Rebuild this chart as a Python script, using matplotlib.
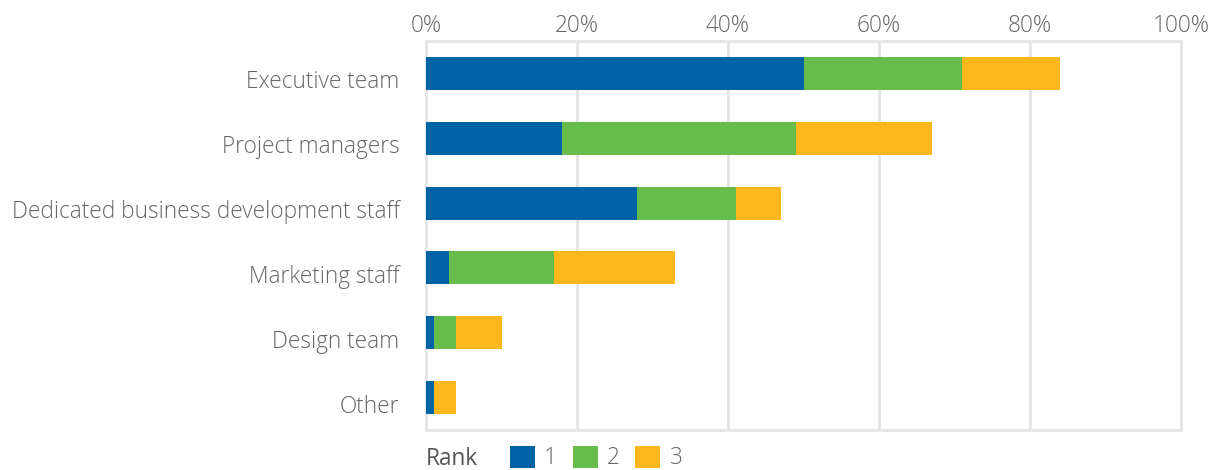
import matplotlib
matplotlib.use("Agg")
import matplotlib.pyplot as plt
from matplotlib.patches import Patch
import matplotlib.transforms as mtransforms

categories = ["Executive team", "Project managers", "Dedicated business development staff",
              "Marketing staff", "Design team", "Other"]
rank1 = [50, 18, 28, 3, 1, 1]
rank2 = [21, 31, 13, 14, 3, 0]
rank3 = [13, 18, 6, 16, 6, 3]
series_labels = ["1", "2", "3"]
xticks = [0, 20, 40, 60, 80, 100]
xticklabels = ["0%", "20%", "40%", "60%", "80%", "100%"]

colors = ["#0063a6", "#66bd4c", "#fbb71b"]
txt = "#666666"
grid = "#e6e6e6"

plt.rcParams['font.family'] = ['Open Sans', 'DejaVu Sans']
plt.rcParams['font.weight'] = 'light'
FS = 16.3

fig = plt.figure(figsize=(12.12, 4.70), dpi=100)
ax = fig.add_axes([426/1212, 40/470, 755/1212, 389/470])

y = list(range(len(categories)))
left = [0]*len(categories)
for vals, c, lab in zip([rank1, rank2, rank3], colors, series_labels):
    ax.barh(y, vals, left=left, height=0.51, color=c, label=lab, zorder=3)
    left = [l + v for l, v in zip(left, vals)]

ax.set_xlim(0, 100)
ax.set_ylim(5.5, -0.5)
ax.set_xticks(xticks)
ax.set_xticklabels(xticklabels)
ax.set_yticks(y)
ax.set_yticklabels(categories)
ax.xaxis.tick_top()
ax.tick_params(axis='x', length=0, pad=2, labelsize=FS, labelcolor=txt)
ax.tick_params(axis='y', length=0, pad=19, labelsize=FS, labelcolor=txt)
off = mtransforms.ScaledTranslation(0, -6/100, fig.dpi_scale_trans)
for lab in ax.get_yticklabels():
    lab.set_transform(lab.get_transform() + off)
ax.grid(axis='x', color=grid, linewidth=2.2, zorder=0)
for s in ax.spines.values():
    s.set_color(grid)
    s.set_linewidth(2.2)
    s.set_zorder(0)

fig.text(426/1212, 1 - 459/470, "Rank", fontsize=FS, color="#555555",
         ha='left', va='center', weight='normal')
handles = [Patch(facecolor=c, edgecolor='none') for c in colors]
leg = fig.legend(handles, series_labels, ncol=3, loc='center left',
                 bbox_to_anchor=(510/1212, 1 - 458/470), frameon=False,
                 fontsize=FS, handlelength=1.1, handleheight=1.15,
                 handletextpad=0.4, columnspacing=0.7, borderaxespad=0, borderpad=0)
for t in leg.get_texts():
    t.set_color(txt)

fig.savefig("out.png", dpi=100)
